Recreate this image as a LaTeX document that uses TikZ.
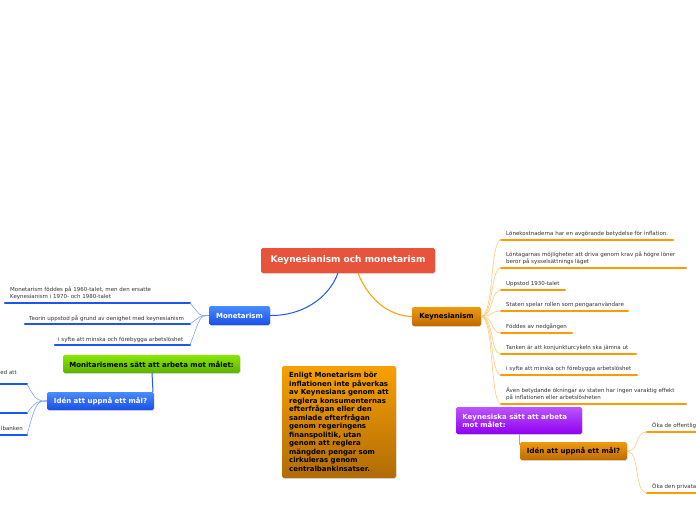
\documentclass[tikz,border=0pt]{standalone}
\usepackage{fontspec}
\setmainfont{DejaVu Sans}
\usetikzlibrary{shadows}
\definecolor{cred}{HTML}{E8533B}
\definecolor{cblueT}{HTML}{4A8BFF}
\definecolor{cblueB}{HTML}{1A4FE6}
\definecolor{corT}{HTML}{EE9A10}
\definecolor{corB}{HTML}{BF6A00}
\definecolor{cgrT}{HTML}{88E800}
\definecolor{cgrB}{HTML}{5BB300}
\definecolor{cpuT}{HTML}{BB55FF}
\definecolor{cpuB}{HTML}{9000F0}
\definecolor{cboxT}{HTML}{F7A000}
\definecolor{cboxB}{HTML}{B06C08}
\definecolor{lblue}{HTML}{1A56F0}
\definecolor{lor}{HTML}{FF9A00}
\definecolor{tlor}{HTML}{FFC878}
\definecolor{tlblue}{HTML}{7AA2FF}
\definecolor{leaftext}{HTML}{333333}
\begin{document}
\begin{tikzpicture}[x=1pt,y=-1pt,
  box/.style={rounded corners=1.6pt, inner sep=0pt, font=\bfseries\fontsize{7}{8.5}\selectfont,
    drop shadow={shadow xshift=0.6pt, shadow yshift=-0.9pt, opacity=0.25}},
  bluebox/.style={box, top color=cblueT, bottom color=cblueB, text=white},
  orbox/.style={box, top color=corT, bottom color=corB, text=black},
  leaf/.style={inner sep=0pt, anchor=base west, align=left, text=leaftext, font=\fontsize{5.5}{6.8}\selectfont},
  bul/.style={line width=2.4pt, line cap=round, lblue},
  oul/.style={line width=2.4pt, line cap=round, lor},
  bcon/.style={tlblue, line width=0.6pt},
  ocon/.style={tlor, line width=0.6pt}
]
\useasboundingbox (0,0) rectangle (696,520);
\clip (0,0) rectangle (696,520);

% central
\node[box, fill=cred, minimum width=174pt, minimum height=25pt, text=white,
  font=\bfseries\fontsize{9}{11}\selectfont] (c) at (348,260.5) {Keynesianism och monetarism};

% main branches
\node[bluebox, minimum width=61pt, minimum height=19pt] (mon) at (239.5,315.5) {Monetarism};
\node[orbox, minimum width=69pt, minimum height=19pt] (key) at (446.5,316.5) {Keynesianism};

\coordinate (cb1) at (338,273);
\coordinate (cb2) at (358,273);
\draw[lblue, line width=1pt] (cb1) .. controls (328,300) and (300,316) .. (mon.east);
\draw[lor, line width=1pt] (cb2) .. controls (370,303) and (392,316) .. (key.west);

% Monetarism leaves
\coordinate (m1a) at (5,303);  \coordinate (m1b) at (190,303);
\coordinate (m2a) at (25,324); \coordinate (m2b) at (190,324);
\coordinate (m3a) at (55,345); \coordinate (m3b) at (190,345);
\draw[bul] (m1a) -- (m1b);
\draw[bul] (m2a) -- (m2b);
\draw[bul] (m3a) -- (m3b);
\node[leaf] (mt1) at (10,298) {Monetarism föddes på 1960-talet, men den ersatte\\Keynesianism i 1970- och 1980-talet};
\node[leaf] (mt2) at (29,320) {Teorin uppstod på grund av oenighet med keynesianism};
\node[leaf] (mt3) at (58,341) {i syfte att minska och förebygga arbetslöshet};
\foreach \e in {m1b,m2b,m3b}
  \draw[bcon] (mon.west) .. controls (199,316) and (201,316) .. (\e);

% Monetarism method
\node[box, top color=cgrT, bottom color=cgrB, minimum width=177pt, minimum height=18pt] (green) at (151.5,364) {Monitarismens sätt att arbeta mot målet:};
\node[bluebox, minimum width=107pt, minimum height=18pt] (idb) at (100.5,401) {Idén att uppnå ett mål?};
\coordinate (g1) at (152,373);
\coordinate (g2) at (153,392);
\draw[lblue, line width=1pt] (g1) -- (g2);

\coordinate (b1) at (27,384); \coordinate (b2) at (27,413); \coordinate (b3) at (27,435);
\draw[bul] (-5,384) -- (b1);
\draw[bul] (-5,413) -- (b2);
\draw[bul] (-5,435) -- (b3);
\node[leaf, anchor=base east] (bt1) at (17,374) {ed att};
\node[leaf, anchor=base east] (bt3) at (23,430) {lbanken};
\foreach \e in {b1,b2,b3}
  \draw[bcon] (idb.west) .. controls (38,401) and (36,401) .. (\e);

% text box
\node[box, top color=cboxT, bottom color=cboxB, minimum width=114pt, minimum height=112pt,
  align=left, font=\bfseries\fontsize{7}{8.5}\selectfont] (tb) at (339,422)
  {Enligt Monetarism bör\\inflationen inte påverkas\\av Keynesians genom att\\reglera konsumenternas\\efterfrågan eller den\\samlade efterfrågan\\genom regeringens\\finanspolitik, utan\\genom att reglera\\mängden pengar som\\cirkuleras genom\\centralbankinsatser.};

% Keynesianism leaves
\foreach \y/\x [count=\i] in {240/673,268/686,290/565,311/628,333/572,354/636,375/637,404/686}{
  \coordinate (k\i) at (501,\y);
  \draw[oul] (k\i) -- (\x,\y);
  \draw[ocon] (key.east) .. controls (494,316) and (490,\y) .. (k\i);
}
\node[leaf] (kt1) at (506,235) {Lönekostnaderna har en avgörande betydelse för inflation.};
\node[leaf] (kt2) at (506,263) {Löntagarnas möjligheter att driva genom krav på högre löner\\beror på sysselsättnings läget};
\node[leaf] (kt3) at (506,285) {Uppstod 1930-talet};
\node[leaf] (kt4) at (506,306) {Staten spelar rollen som pengaranvändare};
\node[leaf] (kt5) at (506,328) {Föddes av nedgången};
\node[leaf] (kt6) at (506,349) {Tanken är att konjunkturcykeln ska jämna ut};
\node[leaf] (kt7) at (506,370) {i syfte att minska och förebygga arbetslöshet};
\node[leaf] (kt8) at (506,399) {Även betydande ökningar av staten har ingen varaktig effekt\\på inflationen eller arbetslösheten};

% Keynesian method
\node[box, top color=cpuT, bottom color=cpuB, minimum width=126pt, minimum height=27pt,
  align=left, text=white, font=\bfseries\fontsize{7}{8.3}\selectfont] (pur) at (519,420.5) {Keynesiska sätt att arbeta\\mot målet:\hspace*{70pt}};
\node[orbox, minimum width=107pt, minimum height=18pt] (ido) at (573.5,451) {Idén att uppnå ett mål?};
\coordinate (p1) at (519.5,434);
\coordinate (p2) at (519.5,445);
\draw[lor, line width=1pt] (p1) -- (p2);

\coordinate (o1) at (647,432); \coordinate (o2) at (647,493);
\draw[oul] (o1) -- (705,432);
\draw[oul] (o2) -- (705,493);
\node[leaf] (ot1) at (652,427) {Öka de offentlig};
\node[leaf] (ot2) at (652,488) {Öka den privata};
\draw[ocon] (ido.east) .. controls (640,451) and (634,432) .. (o1);
\draw[ocon] (ido.east) .. controls (640,451) and (634,493) .. (o2);
\end{tikzpicture}
\end{document}
